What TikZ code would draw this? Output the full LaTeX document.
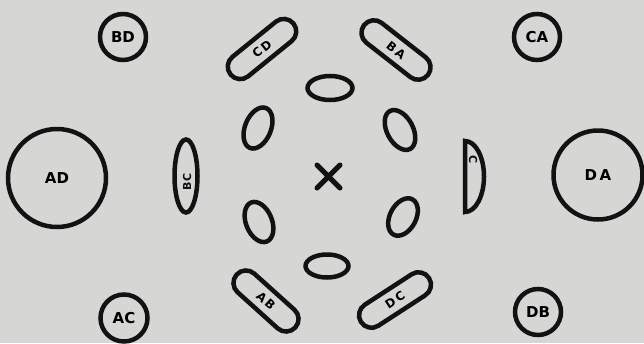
\documentclass[tikz,border=0pt]{standalone}
\usepackage{fontspec}
\setmainfont{DejaVu Sans}
\usetikzlibrary{shapes.geometric,shapes.misc}
\definecolor{paper}{RGB}{214,214,212}
\definecolor{ink}{RGB}{18,18,18}
\tikzset{
  ring/.style={circle,draw=ink,line width=4.5pt,inner sep=0pt,font=\fontsize{15}{17}\selectfont\bfseries},
  pod/.style={rounded rectangle,draw=ink,line width=4.5pt,inner sep=0pt,minimum height=25pt,font=\fontsize{12}{14}\selectfont\bfseries},
  seed/.style={ellipse,draw=ink,line width=4.5pt,inner sep=0pt},
  lbl/.style={inner sep=0pt,font=\fontsize{11}{13}\selectfont\bfseries,text=ink}
}
\begin{document}
\begin{tikzpicture}[x=1pt,y=-1pt]
\fill[paper] (0,0) rectangle (644,343);
\useasboundingbox (0,0) rectangle (644,343);
% outer circles
\node[ring,minimum size=46pt] (BD) at (123,37) {BD};
\node[ring,minimum size=46pt] (CA) at (537,37) {CA};
\node[ring,minimum size=98pt] (AD) at (57,178) {AD};
\node[ring,minimum size=89pt] (DA) at (598,175) {D\,A};
\node[ring,minimum size=47pt] (AC) at (124,318) {AC};
\node[ring,minimum size=46pt] (DB) at (538,312) {DB};
% labelled pods
\node[pod,minimum width=81pt,rotate=39] (CD) at (262,49) {C\,D};
\node[pod,minimum width=81pt,rotate=-38] (BAp) at (396,50) {B\,A};
\node[pod,minimum width=79pt,rotate=-42] (AB) at (266,301) {A\,B};
\node[pod,minimum width=81pt,rotate=33] (DC) at (395,300) {D\,C};
\node[seed,minimum width=73pt,minimum height=23pt,rotate=90] (BC) at (186,176) {};
\node[lbl,rotate=90] (BCt) at (187,182) {BC};
% right half-oval
\draw[ink,line width=4.5pt] (465,141) arc[start angle=90,end angle=-90,x radius=19,y radius=-35.5] -- cycle;
\node[lbl,rotate=-90] (Ct) at (473,160) {C};
% small seeds
\node[seed,minimum width=45pt,minimum height=24pt] (s1) at (330,88) {};
\node[seed,minimum width=43pt,minimum height=23pt] (s2) at (327,266) {};
\node[seed,minimum width=43pt,minimum height=26pt,rotate=68] (s3) at (258,128) {};
\node[seed,minimum width=42pt,minimum height=26pt,rotate=-68] (s4) at (259,222) {};
\node[seed,minimum width=43pt,minimum height=26pt,rotate=-62] (s5) at (400,130) {};
\node[seed,minimum width=40pt,minimum height=26pt,rotate=62] (s6) at (403,217) {};
% centre cross
\coordinate (x1) at (317,165);
\coordinate (x2) at (340,188);
\coordinate (x3) at (340,165);
\coordinate (x4) at (317,188);
\draw[ink,line width=5pt,line cap=round] (x1) -- (x2) (x3) -- (x4);
\end{tikzpicture}
\end{document}
